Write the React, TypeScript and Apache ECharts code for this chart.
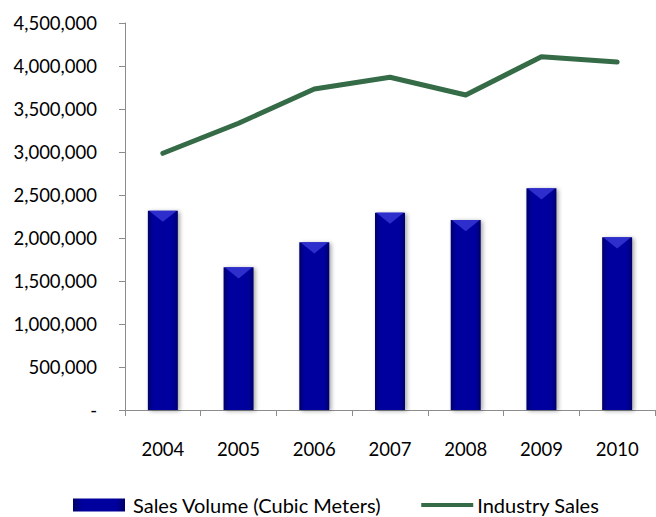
import React, { useEffect, useRef } from "react";
import * as echarts from "echarts";

const years = ["2004", "2005", "2006", "2007", "2008", "2009", "2010"];
const salesVolume = [2317000, 1659000, 1950000, 2294000, 2209000, 2578000, 2008000];
const industrySales = [2985000, 3334000, 3733000, 3869000, 3663000, 4108000, 4047000];
const seriesNames = ["Sales Volume (Cubic Meters)", "Industry Sales"];

const FONT = "Lato";

export default function App() {
  const ref = useRef<HTMLDivElement>(null);
  useEffect(() => {
    if (!ref.current) return;
    const chart = echarts.init(ref.current, undefined, { renderer: "svg" });
    const barGradient = new echarts.graphic.LinearGradient(0, 0, 1, 0, [
      { offset: 0, color: "#00006a" },
      { offset: 0.18, color: "#00009e" },
      { offset: 0.82, color: "#00009e" },
      { offset: 1, color: "#00006a" },
    ]);
    chart.setOption({
      animation: false,
      backgroundColor: "#ffffff",
      textStyle: { fontFamily: FONT },
      grid: { left: 125, right: 1, top: 23, bottom: 107, containLabel: false },
      legend: {
        left: 73,
        top: 494,
        padding: 0,
        itemGap: 40,
        itemWidth: 52,
        itemHeight: 13,
        textStyle: { fontFamily: FONT, fontSize: 20, color: "#000", lineHeight: 22 },
        data: [
          { name: seriesNames[0], icon: "rect", textStyle: { padding: [0, 0, 0, 3] } },
          {
            name: seriesNames[1],
            icon: "path://M0,0 L52,0 L52,4 L0,4 Z",
            textStyle: { padding: [0, 0, 0, -1] },
          },
        ],
      },
      xAxis: {
        type: "category",
        data: years,
        boundaryGap: true,
        axisLine: { lineStyle: { color: "#8c8c8c", width: 1 } },
        axisTick: { show: true, length: 6, alignWithLabel: false, lineStyle: { color: "#8c8c8c" } },
        axisLabel: { fontFamily: FONT, fontSize: 18.5, color: "#000", margin: 29 },
      },
      yAxis: {
        type: "value",
        min: 0,
        max: 4500000,
        interval: 500000,
        axisLine: { show: true, lineStyle: { color: "#8c8c8c", width: 1 } },
        axisTick: { show: true, length: 6, lineStyle: { color: "#8c8c8c" } },
        splitLine: { show: false },
        axisLabel: {
          fontFamily: FONT,
          fontSize: 18.5,
          color: "#000",
          margin: 28,
          formatter: (v: number) => (v === 0 ? "-" : v.toLocaleString("en-US")),
        },
      },
      series: [
        {
          name: seriesNames[0],
          type: "bar",
          data: salesVolume,
          barWidth: 30,
          itemStyle: {
            color: barGradient,
            shadowColor: "rgba(0,0,0,0.35)",
            shadowBlur: 4,
            shadowOffsetX: 2,
            shadowOffsetY: 1,
          },
          z: 2,
        },
        {
          name: "bevel",
          type: "pictorialBar",
          data: salesVolume,
          symbol: "path://M0,0 L30,0 L15,11 Z",
          symbolSize: [28, 11],
          symbolPosition: "end",
          symbolOffset: [0, 0],
          barGap: "-100%",
          itemStyle: { color: "#3a3ad8", opacity: 0.8 },
          silent: true,
          z: 3,
        },
        {
          name: seriesNames[1],
          type: "line",
          data: industrySales,
          symbol: "none",
          lineStyle: { color: "#356c47", width: 5, cap: "round", join: "round" },
          itemStyle: { color: "#356c47" },
          z: 4,
        },
      ],
    });
    return () => chart.dispose();
  }, []);
  return (
    <div
      ref={ref}
      style={{ position: "absolute", left: 0, top: 0, width: 656, height: 517 }}
    />
  );
}
